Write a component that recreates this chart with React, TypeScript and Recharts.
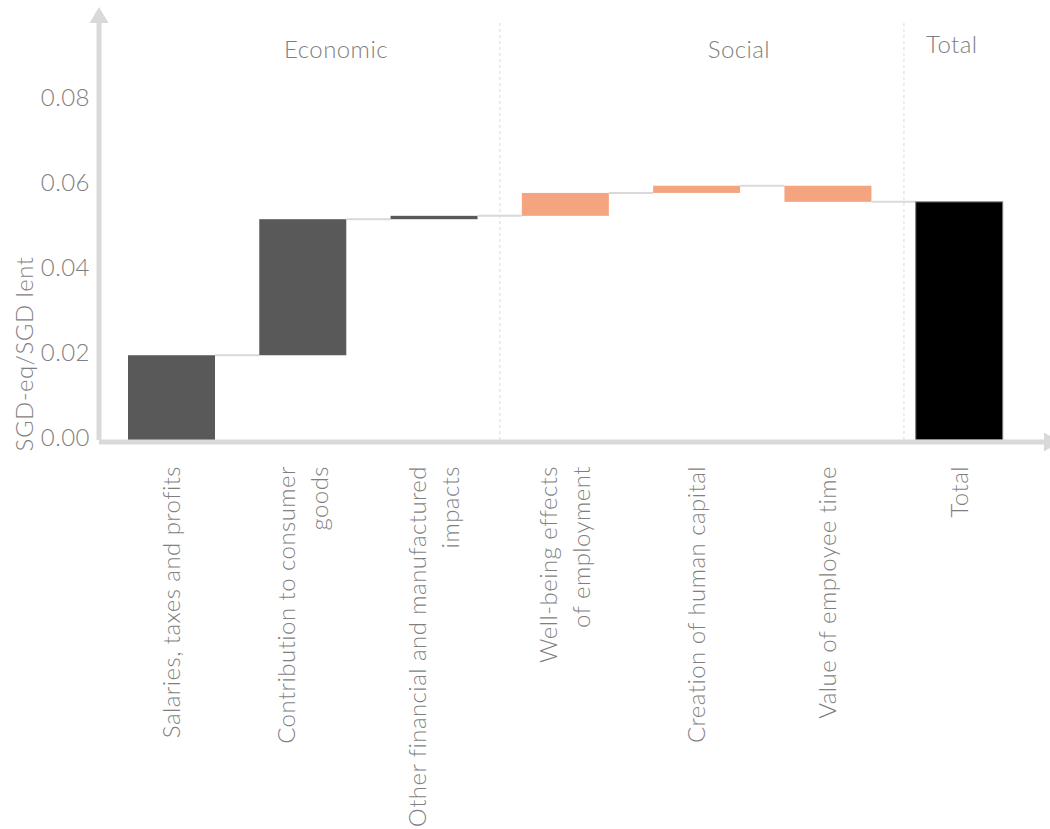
import {
  Bar,
  ComposedChart,
  ReferenceDot,
  ReferenceLine,
  XAxis,
  YAxis,
} from "recharts";

const categories = [
  "Salaries, taxes and profits",
  "Contribution to consumer\ngoods",
  "Other financial and manufactured\nimpacts",
  "Well-being effects\nof employment",
  "Creation of human capital",
  "Value of employee time",
  "Total",
];
const groups = ["Economic", "Economic", "Economic", "Social", "Social", "Social", "Total"];
// step contributions, SGD-eq per SGD lent; the last category is their sum
const deltas = [0.02, 0.0321, 0.0008, 0.0054, 0.0017, -0.0038];
const yTicks = [0, 0.02, 0.04, 0.06, 0.08];
const sectionNames = ["Economic", "Social", "Total"];

// layout
const WIDTH = 1050;
const HEIGHT = 829;
const MARGIN = { top: 23, right: 6, bottom: 0, left: 0 };
const Y_AXIS_W = 99;
const X_AXIS_H = 389;
const PAD = { left: 7, right: 19 };
const BAR_SIZE = 87;
const BAND =
  (WIDTH - MARGIN.left - MARGIN.right - Y_AXIS_W - PAD.left - PAD.right) / categories.length;
const LINE_H = 33;
// positions on the slot axis: slot i is the centre of category i
const sectionAnchors = [
  { x: 1.252, y: 0.0921 },
  { x: 4.321, y: 0.0921 },
  { x: 5.943, y: 0.0934 },
];
const separators = [2.5, 5.578];

const FONT = "Lato, 'Open Sans', sans-serif";
const FONT_SIZE = 24;
const SPACING = 0.45;
const TEXT = "#7f7f7f";
const AXIS = "#d9d9d9";
const colors: Record<string, string> = {
  Economic: "#595959",
  Social: "#f4a57f",
  Total: "#000000",
};

let running = 0;
const rows = categories.map((name, i) => {
  if (i < deltas.length) {
    const start = running;
    running += deltas[i];
    return {
      name,
      slot: i,
      group: groups[i],
      delta: deltas[i],
      range: [Math.min(start, running), Math.max(start, running)],
    };
  }
  return { name, slot: i, group: groups[i], delta: running, range: [0, running] };
});

const WaterfallBar = (props: any) => {
  const { x, y, width, height, payload } = props;
  const top = Math.min(y, y + height);
  const h = Math.abs(height);
  const level = payload.delta >= 0 ? top : top + h;
  const isTotal = payload.group === "Total";
  return (
    <g>
      <rect
        x={x}
        y={top}
        width={width}
        height={h}
        fill={colors[payload.group]}
        stroke={isTotal ? "#7f7f7f" : "none"}
        strokeWidth={1}
      />
      {!isTotal && (
        <line
          x1={x + width}
          x2={x + BAND}
          y1={level}
          y2={level}
          stroke={AXIS}
          strokeWidth={2}
        />
      )}
    </g>
  );
};

const CategoryTick = (props: any) => {
  const { x, y, payload } = props;
  const lines = String(payload.value).split("\n");
  return (
    <g transform={`translate(${x},${y})`}>
      <text
        transform="rotate(-90)"
        textAnchor="end"
        fill={TEXT}
        fontSize={FONT_SIZE}
        fontFamily={FONT}
        fontWeight={300}
        letterSpacing={SPACING}
      >
        {lines.map((line, i) => (
          <tspan key={i} x={0} y={(i - (lines.length - 1) / 2) * LINE_H} dy="0.35em">
            {line}
          </tspan>
        ))}
      </text>
    </g>
  );
};

export default function App() {
  return (
    <div style={{ width: WIDTH, height: HEIGHT, background: "#fff" }}>
      <style>{"body{margin:0;overflow:hidden}"}</style>
      <ComposedChart width={WIDTH} height={HEIGHT} data={rows} margin={MARGIN}>
        <defs>
          <marker
            id="axisArrow"
            viewBox="0 0 16 19"
            refX={0}
            refY={9.5}
            markerWidth={16}
            markerHeight={19}
            markerUnits="userSpaceOnUse"
            orient="auto-start-reverse"
          >
            <path d="M0,0 L16,9.5 L0,19 Z" fill={AXIS} />
          </marker>
        </defs>
        <XAxis
          dataKey="name"
          interval={0}
          height={X_AXIS_H}
          padding={PAD}
          tickSize={0}
          tickMargin={26}
          tick={CategoryTick}
          axisLine={{
            stroke: AXIS,
            strokeWidth: 5,
            transform: "translate(0,2)",
            markerEnd: "url(#axisArrow)",
          }}
        />
        <XAxis
          xAxisId="slot"
          dataKey="slot"
          type="number"
          domain={[-0.5, categories.length - 0.5]}
          allowDataOverflow
          padding={PAD}
          hide
        />
        <YAxis
          width={Y_AXIS_W}
          domain={[0, 0.0984]}
          ticks={yTicks}
          tickFormatter={(v: number) => v.toFixed(2)}
          tickSize={0}
          tickMargin={9}
          tick={{
            fill: TEXT,
            fontSize: FONT_SIZE,
            fontFamily: FONT,
            fontWeight: 300,
            letterSpacing: SPACING,
            dy: -3,
          }}
          axisLine={{ stroke: AXIS, strokeWidth: 5, markerStart: "url(#axisArrow)" }}
        />
        {separators.map((s) => (
          <ReferenceLine
            key={s}
            xAxisId="slot"
            x={s}
            stroke={AXIS}
            strokeWidth={1}
            strokeDasharray="3 3"
          />
        ))}
        <Bar
          dataKey="range"
          barSize={BAR_SIZE}
          shape={WaterfallBar}
          isAnimationActive={false}
        />
        {sectionNames.map((name, i) => (
          <ReferenceDot
            key={name}
            xAxisId="slot"
            x={sectionAnchors[i].x}
            y={sectionAnchors[i].y}
            r={0}
            fill="none"
            stroke="none"
            label={{
              value: name,
              position: "center",
              fill: TEXT,
              fontSize: FONT_SIZE,
              fontFamily: FONT,
              fontWeight: 300,
              letterSpacing: SPACING,
            }}
          />
        ))}
        <text
          transform="translate(25,354) rotate(-90)"
          textAnchor="middle"
          dy="0.35em"
          fill={TEXT}
          fontSize={FONT_SIZE}
          fontFamily={FONT}
          fontWeight={300}
          letterSpacing={SPACING}
        >
          SGD-eq/SGD lent
        </text>
      </ComposedChart>
    </div>
  );
}
